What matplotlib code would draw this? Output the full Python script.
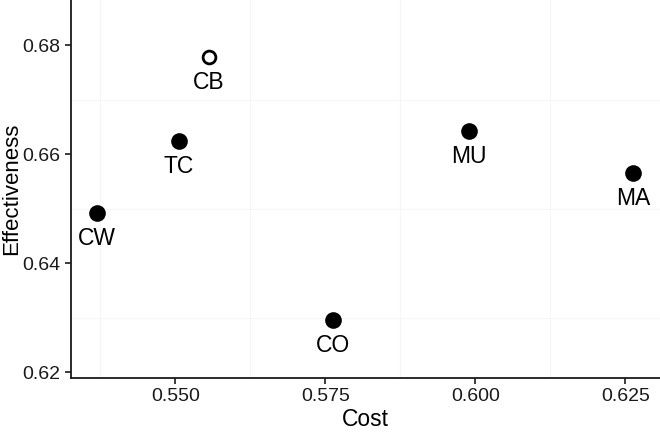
import matplotlib.pyplot as plt
import numpy as np

plt.rcParams['font.family'] = ['Liberation Sans', 'DejaVu Sans']

labels = ['CW', 'TC', 'CB', 'CO', 'MU', 'MA']
cost = [0.5369, 0.5506, 0.5556, 0.5763, 0.5990, 0.6263]
effect = [0.6492, 0.6624, 0.6779, 0.6296, 0.6643, 0.6566]
hollow = [False, False, True, False, False, False]

x_ticks = [0.550, 0.575, 0.600, 0.625]
y_ticks = [0.62, 0.64, 0.66, 0.68]

fig = plt.figure(figsize=(6.6, 4.32), dpi=100)
ax = fig.add_axes([71 / 660, 54 / 432, 1 - 71 / 660, 1 - 54 / 432])

ax.set_xlim(0.5326, 0.6308)
ax.set_ylim(0.6189, 0.6883)

# faint grid between ticks
for gx in [0.5375, 0.5625, 0.5875, 0.6125]:
    ax.axvline(gx, color='#f6f6f6', lw=0.8, zorder=0)
for gy in [0.63, 0.65, 0.67]:
    ax.axhline(gy, color='#f6f6f6', lw=0.8, zorder=0)

for xi, yi, lab, h in zip(cost, effect, labels, hollow):
    if h:
        ax.plot(xi, yi, 'o', ms=9.2, mfc='white', mec='black', mew=2.0, zorder=3)
    else:
        ax.plot(xi, yi, 'o', ms=12, mfc='black', mec='black', mew=0, zorder=3)
    ax.annotate(lab, (xi, yi), xytext=(0, -18.5), textcoords='offset points',
                ha='center', va='center', fontsize=16.5, color='black')

ax.set_xticks(x_ticks)
ax.set_xticklabels(['%.3f' % v for v in x_ticks])
ax.set_yticks(y_ticks)
ax.set_yticklabels(['%.2f' % v for v in y_ticks])

for side in ['top', 'right']:
    ax.spines[side].set_visible(False)
for side in ['left', 'bottom']:
    ax.spines[side].set_linewidth(1.3)
    ax.spines[side].set_color('#1a1a1a')

ax.tick_params(axis='both', length=4, width=1.2, color='#1a1a1a',
               labelsize=14, labelcolor='#1a1a1a', pad=3.5)

ax.set_xlabel('Cost', fontsize=16.5, labelpad=2)
fig.text(12 / 660, 1 - 189 / 432, 'Effectiveness', rotation=90,
         ha='center', va='center', fontsize=16)

fig.savefig('out.png', dpi=100)
